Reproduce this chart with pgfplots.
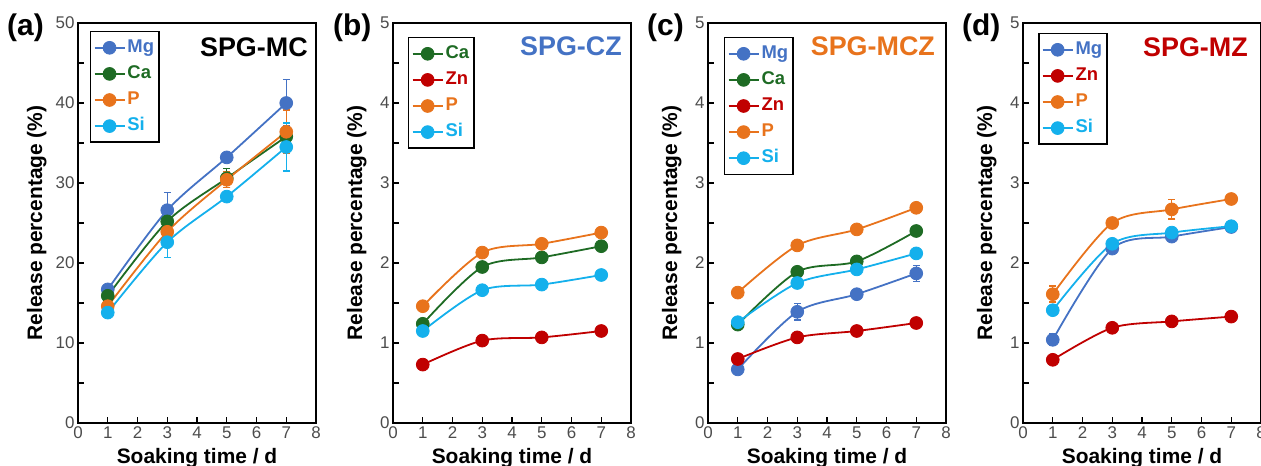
\documentclass[border=0pt]{standalone}
\usepackage{fontspec}
\setmainfont{Liberation Sans}
\usepackage{pgfplots}
\pgfplotsset{compat=1.18}
\definecolor{cMg}{HTML}{4472C4}
\definecolor{cCa}{HTML}{1E6B24}
\definecolor{cZn}{HTML}{C00000}
\definecolor{cP}{HTML}{E8731C}
\definecolor{cSi}{HTML}{14B0EC}
\tikzset{ttl/.style={anchor=north east, inner sep=0pt, font=\bfseries\fontsize{27}{30}\selectfont}}
\pgfplotsset{
 panel/.style={
  scale only axis, width=238bp, height=400bp, anchor=south west,
  xmin=0, xmax=8, xtick={0,...,8},
  tick pos=left, tick align=inside,
  major tick length=5.5bp, minor tick length=5.5bp,
  axis line style={line width=2bp},
  after end axis/.code={\draw[line width=2bp, black] (rel axis cs:0,0) rectangle (rel axis cs:1,1);},
  every tick/.style={black, line width=1.4bp},
  tick label style={font=\fontsize{17}{19}\selectfont, text=black!70},
  /pgf/number format/assume math mode=true,
  label style={font=\bfseries\fontsize{21}{24}\selectfont},
  xlabel={Soaking time / d},
  ylabel={Release percentage (\%)},
  xlabel style={at={(axis description cs:0.5,0)}, anchor=base, yshift=-40bp},
  ylabel style={at={(axis description cs:-0.130,0.5)}, anchor=base},
  legend cell align=left,
  legend style={anchor=north west, draw=black, line width=1.5bp,
    font=\bfseries\fontsize{18.5}{22}\selectfont, inner sep=3bp,
    nodes={text height=13.5bp, text depth=4bp, inner ysep=4.3bp, inner xsep=2bp}},
  legend image code/.code={\draw[mark repeat=2,mark phase=2,#1] plot coordinates {(0bp,0bp) (15bp,0bp) (30bp,0bp)};},
  every axis plot/.append style={line width=1.8bp, mark=*, mark size=6.4bp, smooth, tension=0.5,
    mark options={line width=0.8bp},
    error bars/y dir=both, error bars/y explicit,
    error bars/error bar style={line width=1.4bp},
    error bars/error mark options={rotate=90, mark size=3.5bp, line width=1.4bp}},
 },
}
\begin{document}
\begin{tikzpicture}
% (a)
\begin{axis}[panel, at={(78bp,43bp)}, ymin=0, ymax=50, ytick={0,10,...,50}, minor y tick num=1,
  ylabel style={at={(axis description cs:-0.151,0.5)}},
  legend style={at={(0.05,0.98)}}]
\addplot[cMg] coordinates {(1,16.7)+-(0,0.5) (3,26.6)+-(0,2.2) (5,33.2)+-(0,0.6) (7,40.0)+-(0,2.9)};
\addlegendentry{\textcolor{cMg}{Mg}}
\addplot[cCa] coordinates {(1,15.9)+-(0,0.4) (3,25.2)+-(0,0.6) (5,30.6)+-(0,1.2) (7,35.8)+-(0,0.8)};
\addlegendentry{\textcolor{cCa}{Ca}}
\addplot[cP] coordinates {(1,14.6)+-(0,0.4) (3,23.9)+-(0,0.6) (5,30.4)+-(0,1.0) (7,36.4)+-(0,2.7)};
\addlegendentry{\textcolor{cP}{P}}
\addplot[cSi] coordinates {(1,13.8)+-(0,0.3) (3,22.6)+-(0,1.9) (5,28.3)+-(0,0.4) (7,34.5)+-(0,3.0)};
\addlegendentry{\textcolor{cSi}{Si}}
\node[ttl, text=black] at (rel axis cs:0.966,0.9625) {SPG-MC};
\end{axis}
% (b)
\begin{axis}[panel, at={(393bp,43bp)}, ymin=0, ymax=5, ytick={0,...,5}, minor y tick num=1,
  legend style={at={(0.063,0.965)}}]
\addplot[cCa] coordinates {(1,1.24)+-(0,0.03) (3,1.95)+-(0,0.03) (5,2.07)+-(0,0.02) (7,2.21)+-(0,0.03)};
\addlegendentry{\textcolor{cCa}{Ca}}
\addplot[cZn] coordinates {(1,0.73)+-(0,0.02) (3,1.03)+-(0,0.02) (5,1.07)+-(0,0.02) (7,1.15)+-(0,0.02)};
\addlegendentry{\textcolor{cZn}{Zn}}
\addplot[cP] coordinates {(1,1.46)+-(0,0.03) (3,2.13)+-(0,0.03) (5,2.24)+-(0,0.02) (7,2.38)+-(0,0.03)};
\addlegendentry{\textcolor{cP}{P}}
\addplot[cSi] coordinates {(1,1.15)+-(0,0.03) (3,1.66)+-(0,0.02) (5,1.73)+-(0,0.02) (7,1.85)+-(0,0.02)};
\addlegendentry{\textcolor{cSi}{Si}}
\node[ttl, text=cMg] at (rel axis cs:0.962,0.965) {SPG-CZ};
\end{axis}
% (c)
\begin{axis}[panel, at={(708bp,43bp)}, ymin=0, ymax=5, ytick={0,...,5}, minor y tick num=1,
  legend style={at={(0.067,0.965)}}]
\addplot[cMg] coordinates {(1,0.67)+-(0,0.03) (3,1.39)+-(0,0.10) (5,1.61)+-(0,0.06) (7,1.87)+-(0,0.10)};
\addlegendentry{\textcolor{cMg}{Mg}}
\addplot[cCa] coordinates {(1,1.23)+-(0,0.03) (3,1.89)+-(0,0.03) (5,2.02)+-(0,0.03) (7,2.40)+-(0,0.04)};
\addlegendentry{\textcolor{cCa}{Ca}}
\addplot[cZn] coordinates {(1,0.80)+-(0,0.02) (3,1.07)+-(0,0.02) (5,1.15)+-(0,0.02) (7,1.25)+-(0,0.02)};
\addlegendentry{\textcolor{cZn}{Zn}}
\addplot[cP] coordinates {(1,1.63)+-(0,0.03) (3,2.22)+-(0,0.03) (5,2.42)+-(0,0.03) (7,2.69)+-(0,0.03)};
\addlegendentry{\textcolor{cP}{P}}
\addplot[cSi] coordinates {(1,1.26)+-(0,0.03) (3,1.75)+-(0,0.03) (5,1.92)+-(0,0.03) (7,2.12)+-(0,0.03)};
\addlegendentry{\textcolor{cSi}{Si}}
\node[ttl, text=cP] at (rel axis cs:0.954,0.965) {SPG-MCZ};
\end{axis}
% (d)
\begin{axis}[panel, at={(1023bp,43bp)}, ymin=0, ymax=5, ytick={0,...,5}, minor y tick num=1,
  legend style={at={(0.063,0.975)}}]
\addplot[cMg] coordinates {(1,1.04)+-(0,0.07) (3,2.18)+-(0,0.03) (5,2.33)+-(0,0.04) (7,2.45)+-(0,0.05)};
\addlegendentry{\textcolor{cMg}{Mg}}
\addplot[cZn] coordinates {(1,0.79)+-(0,0.02) (3,1.19)+-(0,0.02) (5,1.27)+-(0,0.02) (7,1.33)+-(0,0.02)};
\addlegendentry{\textcolor{cZn}{Zn}}
\addplot[cP] coordinates {(1,1.61)+-(0,0.10) (3,2.50)+-(0,0.03) (5,2.67)+-(0,0.12) (7,2.80)+-(0,0.03)};
\addlegendentry{\textcolor{cP}{P}}
\addplot[cSi] coordinates {(1,1.41)+-(0,0.03) (3,2.24)+-(0,0.03) (5,2.38)+-(0,0.03) (7,2.46)+-(0,0.06)};
\addlegendentry{\textcolor{cSi}{Si}}
\node[ttl, text=cZn] at (rel axis cs:0.945,0.9625) {SPG-MZ};
\end{axis}
\begin{scope}[every node/.style={anchor=west, inner sep=0pt, font=\bfseries\fontsize{30}{34}\selectfont}]
\node at (7bp,438bp) {(a)};
\node at (333bp,438bp) {(b)};
\node at (647bp,438bp) {(c)};
\node at (962bp,438bp) {(d)};
\end{scope}
\pgfresetboundingbox
\useasboundingbox (0,0) rectangle (1261bp,466bp);
\end{tikzpicture}
\end{document}
